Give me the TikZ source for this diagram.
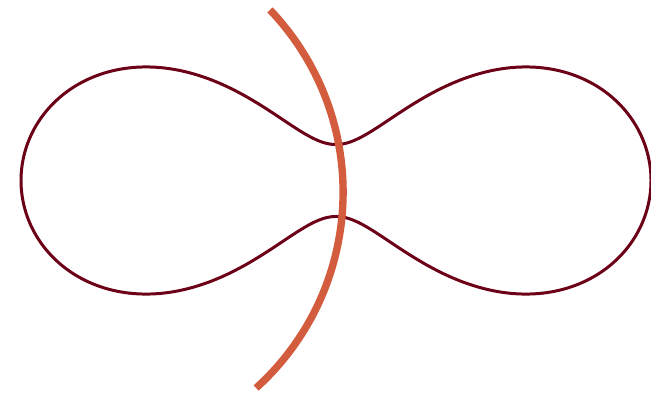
\documentclass[tikz,border=0pt]{standalone}
\usepackage{tikz}
\definecolor{ovalred}{RGB}{108,0,22}
\definecolor{arcorange}{RGB}{212,92,62}

\begin{document}
\begin{tikzpicture}[
    oval/.style={draw=ovalred, line width=1.7pt, line join=round},
    cut/.style={draw=arcorange, line width=4.2pt}
]
\useasboundingbox (0,0) rectangle (13.02,7.9);

\coordinate (mid) at (6.72, 4.29);
\coordinate (arcc) at (1.584, 4.056);

% Cassini oval round (mid)
\draw[oval, shift={(mid)}] plot[domain=0:360, samples=361, smooth cycle]
    ({\x}:{sqrt(19.586*cos(2*\x) + sqrt(404.17 - 383.61*pow(sin(2*\x),2)))});

% crossing arc
\draw[cut] (arcc) ++(-47.9:5.278) arc[start angle=-47.9, end angle=43.7, radius=5.278];
\end{tikzpicture}
\end{document}
